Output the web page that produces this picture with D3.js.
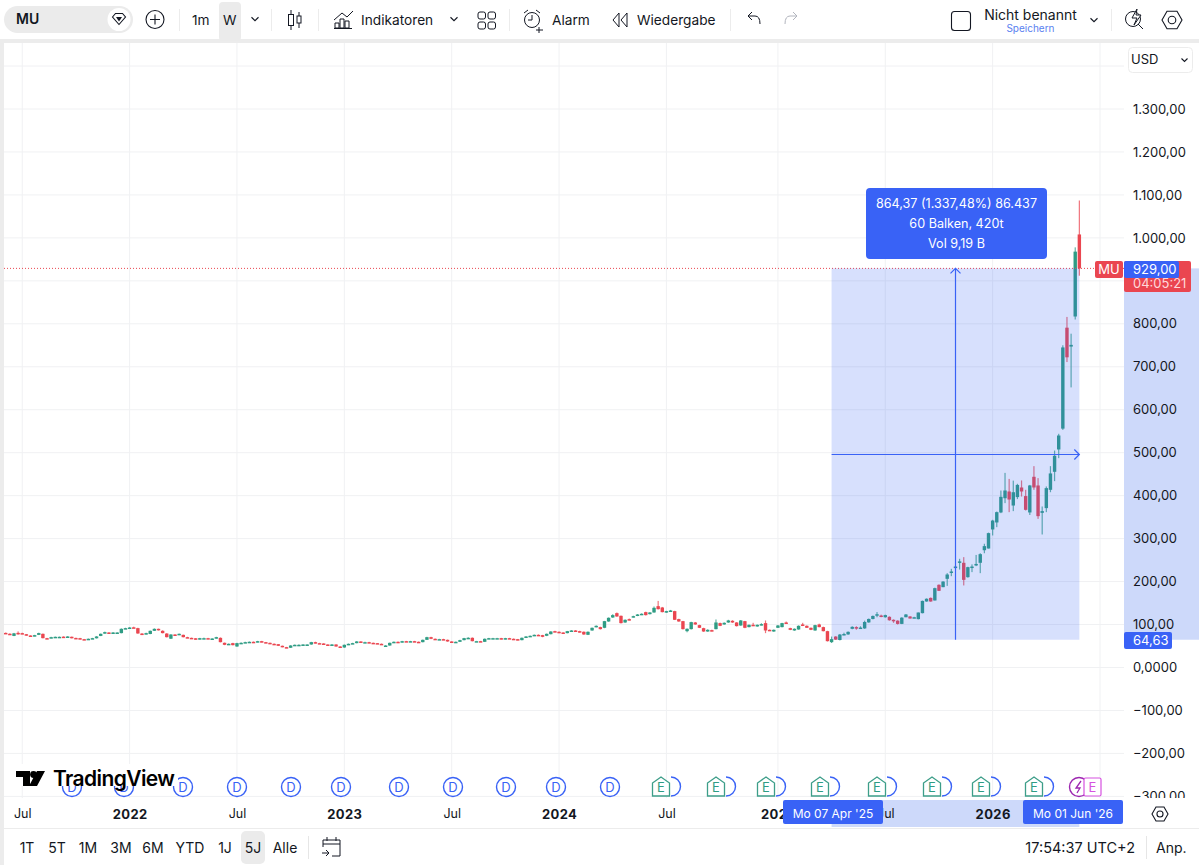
<!DOCTYPE html>
<html lang="de">
<head>
<meta charset="utf-8">
<title>MU</title>
<script src="https://cdn.jsdelivr.net/npm/d3@7/dist/d3.min.js"></script>
<style>
html,body{margin:0;padding:0;background:#fff;overflow:hidden}
svg{display:block;font-family:Inter,"Noto Sans",sans-serif}
text{fill:#131722}
</style>
</head>
<body>
<svg id="chart" width="1199" height="865"></svg>
<script>
// Weekly candles, oldest first: the first bar is the week of 7 June 2021.
const opens = [80.5,78.5,73.5,80.6,80,77.5,74.5,73.5,76,78.4,68.3,68.5,71,71,71.8,71.4,71.5,68.8,68.3,66,65.2,67,68,73.5,79,81.5,80.7,81.5,80,90,91.5,93.5,91.6,79,77.5,78,85.4,90,85.4,79,67,76.8,76,76,70.6,69,68,65.2,68,68.3,67.5,67.5,69,57.5,53,56.7,48.9,56.7,57.4,59,59.8,59,61.3,59,57.4,55.1,54.3,50.5,47.4,46,51.2,52.8,52.8,53.6,53.6,59,56.7,55.9,53.6,52.8,53.6,48.9,46.6,52.8,55.1,56.7,60.6,59,59,57.4,56.7,55.1,50,51.2,57.4,59.8,58.2,61.3,59.8,61.3,59.8,59,64.4,70.6,66.8,65.2,66,64.4,60.6,58.2,59.8,63.7,68.3,69.1,61.3,61.3,59.8,66.8,68.3,68.3,68.3,66,68.3,66.8,66,63.7,69.1,72.2,73.7,76,
75.3,73.8,77.6,84.6,83.1,81.5,80,84.6,86.2,84.6,83.1,76.1,86.2,94,94,92.4,107.1,116.4,126.5,120.3,104.8,112.6,117.2,120.3,122.6,128.9,124.2,128.1,142.8,139.7,128.1,130.4,131.2,112.6,107.9,84.6,89.3,104.8,98.6,91.6,83.8,87,89.3,103.3,100.2,104.8,108.7,104.8,97.8,107.9,94,99.4,95.5,98.6,103.3,87.7,83.8,92.4,94,104.8,91.6,86.2,88.5,100.2,97,92.4,86.2,100.2,94,84.6,
59,72,64,77,77,90,94,92,91,105,113,122,121,117,118,111,109,101.5,117,118.8,116.5,112.6,126.5,153.7,162,156,192.5,187,206.4,220.4,232,244,243.7,210.3,232,238,243.7,273,277,321.3,337.6,360.9,394,409.7,377,396.6,419,399,360.9,443.9,423.7,360,371,413.6,455.5,507.5,556,791,747,817,1008];

const highs = [81.5,79.5,80.5,84,81,78,75,76,81,79,69,71.5,72,72,72.5,73,72,69.5,69,66.5,67.5,69,73,79,83.5,82,82.5,82.5,91,92.5,94,95,92.5,80,81,86,91,90.5,86.5,80,77.5,77.5,79,76.5,71.5,69.5,68.5,69,69.5,69,68.5,71.5,70,58,56,57.5,57.5,58.5,60,60.5,60.5,62,62,59.5,58,56,54.5,51,48,52,53.5,53.8,54,54.5,59.8,60,57.5,56.5,54,54.5,54,49.5,53.5,55.8,57.5,61.5,61,60,59.8,58,57,55.8,52,58,60.5,60.5,62,62,62,62,60.5,65,71.5,71.5,67.5,66.8,66.8,65,61,60.5,64.5,69,70.5,70,62,62,67.5,69,69,69,69,69,69,67.5,66.5,69.8,73,74.5,76.8,77,
76,79,84.5,85.5,84,82,85.2,87,87,85.5,84,84,93,98,95,108.5,116.5,124,128,121,112,114,120.5,124.5,126,130,129,142,155,141,132,134,132,113.5,108.5,91,106.5,106,99.5,92.5,89,88,111.8,104.5,105,111,110,105.5,110.5,108.5,100,104,100,103,109.5,88.5,88.5,99,104,107,92.5,91,98,104,98,93,99.5,102,95,85.5,
72,73,78,81,84,96,96,96,109,114,121,129,123,123,119,112,110,117,124.5,119.5,118,128,155.8,160.8,163,185.8,193.5,201,219.6,229.7,237,253,256.9,234.5,240,262,266,288,314,343.8,363,412,453,439,435,427.6,435.4,413.6,425,468.7,440.8,374.8,421.4,468.7,505,544,750,816,777,978,1087];

const lows = [78.5,76,73,76.5,77.5,74,73,72.5,75.5,67.8,66.5,68,70.5,70.5,70.8,71,67.8,67.8,65.5,64.5,64.8,66.5,67.5,73,78.5,80,80,80.8,79.5,89.5,91,92,78.5,75.5,77,77.5,85,86,79.5,70,66.5,75,75.5,70,68.5,67.8,64.5,65,67.5,67,66.8,67,58.5,52,52.5,51.5,48.2,56,57,58.5,58.5,58.5,58.5,56.8,54.5,53.8,50,47,45.2,45.6,50.5,52,52.2,53,53,56,55.5,53,52.3,52.3,48.5,45.3,46,52.2,54.8,56.2,58.5,58.5,57,56.2,54.8,53,49.5,50.8,57,57.8,57.8,59.4,59.4,59.4,58.5,58.5,64,66,64.7,64.8,64,60,57.8,57.8,59.4,63.2,67.8,60.8,60.8,59.3,59.3,66.3,67.8,67.8,65.5,65.5,66.3,65.5,63.2,63.2,68.6,71.7,73.2,74.6,
70.5,73,77,82.5,80,79.5,79.5,84,83,81.5,76,75.5,85.5,93.5,88.5,91.5,106.5,115.5,118,102.5,104,109.5,116.5,119.5,122,121,123.5,127.5,135,128.3,127.5,129.8,110.5,106.5,88.5,82,88.5,99.5,91.8,83,83,84,88.8,96.3,99.5,104,104,95.5,97,91.5,93.5,96.5,95,98,80,86.5,83,92,93.5,102.5,87,85.5,88,96.5,92,87,85.5,93.5,84,60.5,
57,64,63,75,76,89,88,91,90,104,112,117,117,116,109,104,100,101,117,114,116,112,126,153,153,156,178,187,190,212.6,229.7,228,191,209,222,236,219.6,266,277,307.3,326.7,359.3,382.6,361.6,364,392,398,365.5,355,413.6,346,309.6,361.6,408,433.8,487.3,553,711,652,810,912];

const closes = [79.2,76.8,79.5,80,78.4,74.5,73.7,75.3,80,68.3,67.5,70.6,71.4,71.4,71.4,72.2,68.3,68.3,66,65.2,66.8,68.3,72.2,78.4,82.3,80.7,81.5,81.5,90,91.6,93.1,93.1,79.2,77.6,80,85.4,90,87.7,80,70.6,76.8,76,78.4,70.6,69.1,68.3,65.2,68.3,68.3,67.5,67.5,70.6,59,52.8,55.1,52,56.7,57.4,59,59.8,59,61.3,59,57.4,55.1,54.3,50.5,47.4,45.8,51.2,52.8,52.8,53.6,53.6,59,56.7,55.9,53.6,52.8,53.6,48.9,45.8,52.8,55.1,56.7,60.6,59,59,57.4,56.7,55.1,53.6,51.2,57.4,59.8,58.2,61.3,59.8,61.3,59.8,59,64.4,70.6,66.8,65.2,66,64.4,60.6,58.2,59.8,63.7,68.3,69.1,61.3,61.3,59.8,66.8,68.3,68.3,68.3,66,68.3,66.8,66,63.7,69.1,72.2,73.7,76,75.3,
71.4,78.4,83.8,83.1,80.7,80,84.6,86.2,83.8,82.3,76.9,83.1,92.4,97,89.3,107.9,115.7,121.9,118.8,103.3,111,110.2,119.5,123.4,125,121.9,128.1,138.9,135.8,128.9,131.2,132.7,111,107.1,89.3,90.1,105.6,100.2,92.4,83.8,87.7,84.6,104.8,97,104,109.5,104.8,96.3,109.5,92.4,99.4,97,99.4,101,86.2,87,87.7,97.8,103.3,103.3,87.7,90.1,97,97,92.4,87.7,98.6,94,84.6,61.3,
66,65,76.7,78,83,94.6,91,93,106,113,120,124,118,122,110,109,101.5,116,123.4,114,117,128,155,160,153.7,184.7,178.5,200,216.5,223.5,235,247,204,233.6,235,241,263.8,282.5,312.8,342,361.6,397.3,412,391,408,425,409.7,367,423.7,419,352.3,364,417.5,451.7,492.8,540,745,722,751,968,929];

const firstWeek = new Date(Date.UTC(2021, 5, 7));
const bars = closes.map((c, i) => ({
  date: d3.utcMonday.offset(firstWeek, i), o: opens[i], h: highs[i], l: lows[i], c
}));

// Price scale tick values and their printed labels.
const priceTicks = [1400,1300,1200,1100,1000,900,800,700,600,500,400,300,200,100,0,-100,-200,-300];
const priceLabels = ["","1.300,00","1.200,00","1.100,00","1.000,00","","800,00","700,00","600,00","500,00","400,00","300,00","200,00","100,00","0,0000","−100,00","−200,00","−300,00"];

// Time axis tick labels.
const timeTickDates = [[2021,6,5],[2022,0,3],[2022,6,4],[2023,0,2],[2023,6,3],[2024,0,1],[2024,6,1],[2025,0,6],[2025,6,7],[2026,0,5],[2026,6,6]];
const timeTickLabels = ["Jul","2022","Jul","2023","Jul","2024","Jul","2025","Jul","2026",""];

// Event markers along the bottom of the pane.
const dividendX = [72,124,183,237,291,341,399,453,506,556,610];
const earningsX = [661,716,766,820,877,932,981,1034];
const rangeButtons = ["1T","5T","1M","3M","6M","YTD","1J","5J","Alle"];
const rangeButtonX = [27,57,88,121,153,190,225,253,285];

// Price measure between the two selected weeks.
const measureStart = {date: new Date(Date.UTC(2025, 3, 7)), price: 64.63};
const measureEnd = {date: new Date(Date.UTC(2026, 5, 1)), price: 929};
const measureLines = ["864,37 (1.337,48%) 86.437", "60 Balken, 420t", "Vol 9,19 B"];

const GREEN = "#2f9c84", RED = "#ea4650", BLUE = "#3962f6", BAND = "#cdd9fa";
const paneLeft = 4, paneRight = 1124, paneTop = 43, paneBottom = 798, axisBottom = 828;

const svg = d3.select("#chart");
svg.append("rect").attr("width",1199).attr("height",865).attr("fill","#fff");
svg.append("rect").attr("y",39).attr("width",1199).attr("height",4).attr("fill","#ececec");
svg.append("rect").attr("y",39).attr("width",4).attr("height",826).attr("fill","#ececec");
svg.append("clipPath").attr("id","pane").append("rect")
  .attr("x",paneLeft).attr("y",paneTop).attr("width",paneRight-paneLeft).attr("height",paneBottom-paneTop);

const x = d3.scaleUtc()
  .domain([new Date(Date.UTC(2022,0,3)), new Date(Date.UTC(2026,6,6))])
  .range([129.6, 1100]);
const y = d3.scaleLinear().domain([0, 1300]).range([667.5, 109]);

const timeTicks = timeTickDates.map(d => new Date(Date.UTC(d[0], d[1], d[2])));

// Grid
const grid = svg.append("g").attr("clip-path","url(#pane)").attr("stroke","#f0f1f3").attr("stroke-width",1);
grid.selectAll("line.h").data(priceTicks).join("line").attr("class","h")
  .attr("x1",paneLeft).attr("x2",paneRight).attr("y1",d=>y(d)).attr("y2",d=>y(d));
grid.selectAll("line.v").data(timeTicks).join("line").attr("class","v")
  .attr("x1",d=>x(d)).attr("x2",d=>x(d)).attr("y1",paneTop).attr("y2",paneBottom);

// Candles
const candleWidth = 3.4;
const candles = svg.append("g").attr("clip-path","url(#pane)").selectAll("g").data(bars).join("g")
  .attr("fill", d => d.c >= d.o ? GREEN : RED);
candles.append("rect").attr("class","wick")
  .attr("x",d=>x(d.date)-0.6).attr("width",1.2)
  .attr("y",d=>y(d.h)).attr("height",d=>y(d.l)-y(d.h)).attr("opacity",0.75);
candles.append("rect").attr("class","body")
  .attr("x",d=>x(d.date)-candleWidth/2).attr("width",candleWidth)
  .attr("y",d=>y(Math.max(d.o,d.c)))
  .attr("height",d=>Math.max(1.5,Math.abs(y(d.o)-y(d.c))));

// Last price line
const lastPrice = closes[closes.length-1];
svg.append("line").attr("x1",paneLeft).attr("x2",paneRight)
  .attr("y1",y(lastPrice)).attr("y2",y(lastPrice))
  .attr("stroke",RED).attr("stroke-width",1).attr("stroke-dasharray","1 2");

// Measure overlay
const mx0 = x(measureStart.date), mx1 = x(measureEnd.date);
const my0 = y(measureStart.price), my1 = y(measureEnd.price);
svg.append("rect").attr("x",mx0).attr("y",my1).attr("width",mx1-mx0).attr("height",my0-my1)
  .attr("fill",BLUE).attr("fill-opacity",0.2);
const mxMid = Math.round((mx0+mx1)/2)+0.5, myMid = Math.round((my0+my1)/2)+0.5;
const arrows = svg.append("g").attr("stroke",BLUE).attr("stroke-width",1.2).attr("fill","none");
arrows.append("line").attr("x1",mxMid).attr("x2",mxMid).attr("y1",my0).attr("y2",my1);
arrows.append("line").attr("x1",mx0).attr("x2",mx1).attr("y1",myMid).attr("y2",myMid);
arrows.append("path").attr("d",`M${mxMid-5},${my1+5}L${mxMid},${my1}L${mxMid+5},${my1+5}`);
arrows.append("path").attr("d",`M${mx1-5},${myMid-5}L${mx1},${myMid}L${mx1-5},${myMid+5}`);

const box = svg.append("g");
box.append("rect").attr("x",866).attr("y",188).attr("width",181).attr("height",71).attr("rx",4).attr("fill",BLUE);
box.selectAll("text").data(measureLines).join("text")
  .attr("x",956.5).attr("y",(d,i)=>207.5+i*20).attr("text-anchor","middle")
  .attr("font-size",12.6).style("fill","#fff").text(d=>d);

// Event markers
const events = svg.append("g").attr("clip-path","url(#pane)");
function dividend(g, cx){
  g.append("circle").attr("cx",cx).attr("cy",787).attr("r",9.5).attr("fill","#fff").attr("stroke",BLUE).attr("stroke-width",1.4);
  g.append("text").attr("x",cx).attr("y",792).attr("text-anchor","middle").attr("font-size",13).style("fill",BLUE).text("D");
}
dividendX.forEach(cx => dividend(events, cx));
earningsX.forEach(cx => {
  events.append("path").attr("d",`M${cx+10},777a9.5,9.5 0 0 1 0,19`).attr("fill","none").attr("stroke",BLUE).attr("stroke-width",1.4);
  events.append("path").attr("d",`M${cx-8.5},783L${cx},777L${cx+8.5},783V796H${cx-8.5}Z`)
    .attr("fill","#fff").attr("stroke","#3d9e89").attr("stroke-width",1.3);
  events.append("text").attr("x",cx).attr("y",792).attr("text-anchor","middle").attr("font-size",13).style("fill","#2f9c84").text("E");
});
events.append("circle").attr("cx",1079).attr("cy",787).attr("r",9.5).attr("fill","#fff").attr("stroke","#9c27b0").attr("stroke-width",1.4);
events.append("path").attr("d","M1081,781L1076,788H1080L1077,793").attr("fill","none").attr("stroke","#9c27b0").attr("stroke-width",1.3);
events.append("rect").attr("x",1084).attr("y",778).attr("width",17).attr("height",18).attr("rx",1.5).attr("fill","#fff").attr("stroke","#d652e0").attr("stroke-width",1.2);
events.append("text").attr("x",1092.5).attr("y",792).attr("text-anchor","middle").attr("font-size",13).style("fill","#d652e0").text("E");

// Brand mark
svg.append("rect").attr("x",13).attr("y",764).attr("width",165).attr("height",22).attr("fill","#fff");
svg.append("path").attr("fill","#000")
  .attr("d","M16,771H30V786H23V777H16Z M45,771L37,786H29L37,771Z");
svg.append("circle").attr("cx",33.5).attr("cy",774.5).attr("r",3.4).attr("fill","#000");
svg.append("text").attr("x",53).attr("y",786).attr("font-size",21).attr("font-weight",600).attr("letter-spacing",-0.6).style("fill","#000").text("TradingView");

// Right price axis
svg.append("rect").attr("x",paneRight).attr("y",my1).attr("width",1199-paneRight).attr("height",my0-my1).attr("fill",BAND);
const priceAxis = d3.axisRight(y).tickValues(priceTicks)
  .tickSize(0).tickPadding(9).tickFormat((d,i)=>priceLabels[i]);
const pa = svg.append("g").attr("transform",`translate(${paneRight},0)`).call(priceAxis);
pa.select(".domain").remove();
pa.selectAll("text").attr("font-size",13).attr("font-family","Inter").style("fill","#131722");
svg.append("rect").attr("x",paneRight).attr("y",798).attr("width",75).attr("height",30).attr("fill","#fff");

// Last price tags
svg.append("rect").attr("x",1095).attr("y",261).attr("width",28).attr("height",17).attr("rx",2).attr("fill",RED);
svg.append("text").attr("x",1109).attr("y",274).attr("text-anchor","middle").attr("font-size",13).style("fill","#fff").text("MU");
svg.append("rect").attr("x",1124).attr("y",261).attr("width",67).attr("height",31).attr("rx",2).attr("fill",RED);
svg.append("rect").attr("x",1124).attr("y",261).attr("width",55).attr("height",17).attr("rx",2).attr("fill",BLUE);
svg.append("text").attr("x",1133).attr("y",274).attr("font-size",13).style("fill","#fff").text("929,00");
svg.append("text").attr("x",1133).attr("y",288).attr("font-size",13).style("fill","#ffd9db").text("04:05:21");
svg.append("rect").attr("x",1124).attr("y",632).attr("width",48).attr("height",17).attr("rx",2).attr("fill",BLUE);
svg.append("text").attr("x",1133).attr("y",645).attr("font-size",13).style("fill","#fff").text("64,63");

// Time axis
svg.append("rect").attr("x",paneLeft).attr("y",paneBottom).attr("width",1195).attr("height",axisBottom-paneBottom).attr("fill","#fff");
svg.append("rect").attr("x",mx0).attr("y",paneBottom+2).attr("width",mx1-mx0).attr("height",axisBottom-paneBottom-3).attr("fill",BAND);
const timeAxis = d3.axisBottom(x).tickValues(timeTicks).tickSize(0).tickPadding(0).tickFormat((d,i)=>timeTickLabels[i]);
const ta = svg.append("g").attr("transform","translate(0,809.5)").call(timeAxis);
ta.select(".domain").remove();
ta.selectAll("text").attr("font-family","Inter").attr("font-size",d=>d.getUTCMonth()===0?13:12.5)
  .attr("font-weight",d=>d.getUTCMonth()===0?700:400).attr("letter-spacing",d=>d.getUTCMonth()===0?0.4:0).style("fill","#131722");
[[783,"Mo 07 Apr '25"],[1023,"Mo 01 Jun '26"]].forEach(([lx,t])=>{
  svg.append("rect").attr("x",lx).attr("y",800).attr("width",100).attr("height",24).attr("rx",2).attr("fill",BLUE);
  svg.append("text").attr("x",lx+50).attr("y",818).attr("text-anchor","middle").attr("font-size",12).style("fill","#fff").text(t);
});
svg.append("line").attr("x1",paneLeft).attr("x2",1199).attr("y1",828.5).attr("y2",828.5).attr("stroke","#ececec");

// Hexagon settings glyph, used twice
function hexIcon(cx,cy,r){
  const g = svg.append("g").attr("fill","none").attr("stroke","#131722").attr("stroke-width",1.1);
  g.append("path").attr("d",`M${cx-r},${cy}L${cx-r/2},${cy-r*0.87}H${cx+r/2}L${cx+r},${cy}L${cx+r/2},${cy+r*0.87}H${cx-r/2}Z`);
  g.append("circle").attr("cx",cx).attr("cy",cy).attr("r",r*0.38);
}
hexIcon(1160,814,8);

// Currency selector
svg.append("rect").attr("x",1128.5).attr("y",47.5).attr("width",64).attr("height",25).attr("rx",4).attr("fill","#fff").attr("stroke","#ececec");
svg.append("text").attr("x",1131).attr("y",64).attr("font-size",13).text("USD");
function caret(cx,cy,w){
  svg.append("path").attr("d",`M${cx-w},${cy-w/2}L${cx},${cy+w/2}L${cx+w},${cy-w/2}`).attr("fill","none").attr("stroke","#131722").attr("stroke-width",1.1);
}
caret(1184.5,60,3);

// Top toolbar
const bar = svg.append("g");
bar.append("rect").attr("x",4).attr("y",6).attr("width",129).attr("height",27).attr("rx",13.5).attr("fill","#ebebeb");
bar.append("circle").attr("cx",119).attr("cy",19.5).attr("r",11.5).attr("fill","#fff");
bar.append("path").attr("d","M112.5,17L115.5,13.5H122.5L125.5,17L119,24.5Z").attr("fill","none").attr("stroke","#131722").attr("stroke-width",1.1);
bar.append("path").attr("d","M116,17H122L119,21.5Z").attr("fill","#131722");
bar.append("text").attr("x",16).attr("y",24).attr("font-size",14).attr("font-weight",600).text("MU");
bar.append("circle").attr("cx",155).attr("cy",19.5).attr("r",9).attr("fill","none").attr("stroke","#131722").attr("stroke-width",1.1);
bar.append("path").attr("d","M155,14.5V24.5M150,19.5H160").attr("stroke","#131722").attr("stroke-width",1.1);
[179,271,318,509,730,1111].forEach(sx=>bar.append("line").attr("x1",sx+.5).attr("x2",sx+.5).attr("y1",9).attr("y2",31).attr("stroke","#ececec"));
bar.append("rect").attr("x",219).attr("y",2).attr("width",22).attr("height",39).attr("rx",4).attr("fill","#ebebeb");
const labels = [[192,"1m"],[223,"W"],[361,"Indikatoren"],[552,"Alarm"],[637,"Wiedergabe"]];
labels.forEach(([lx,t])=>bar.append("text").attr("x",lx).attr("y",25).attr("font-size",13.7).text(t));
caret(255,19,3.5);caret(454,19,3.5);caret(1094,20,3.5);
// candle style glyph
bar.append("path").attr("d","M291,10V30M299,12V28").attr("stroke","#131722").attr("fill","none");
bar.append("rect").attr("x",288.5).attr("y",14.5).attr("width",5).attr("height",11).attr("fill","#fff").attr("stroke","#131722");
bar.append("rect").attr("x",297).attr("y",16).attr("width",4).attr("height",7).attr("fill","#fff").attr("stroke","#131722");
// indicators glyph
bar.append("path").attr("d","M334,20L342,13L347,17L353,11M335,28V23H339V28ZM340,28V19H344V28ZM345,28V21H349V28Z M334,28.5H352")
  .attr("fill","none").attr("stroke","#131722").attr("stroke-width",1);
// layout glyph
[[478,12],[488,12],[478,22],[488,22]].forEach(([rx,ry])=>bar.append("rect").attr("x",rx).attr("y",ry).attr("width",7.5).attr("height",7).attr("rx",2).attr("fill","none").attr("stroke","#131722"));
// alarm glyph
bar.append("circle").attr("cx",532).attr("cy",20).attr("r",7.5).attr("fill","none").attr("stroke","#131722");
bar.append("path").attr("d","M532,15V20H528M524,13L528,10M540,13L536,10M539,27V33M536,30H543").attr("fill","none").attr("stroke","#131722");
// replay glyph
bar.append("path").attr("d","M619,13L613,20L619,27ZM627,13L621,20L627,27Z").attr("fill","none").attr("stroke","#131722");
// undo and redo
bar.append("path").attr("d","M748,16L752,12M748,16L752,20M748,16H755Q760,16 760,24").attr("fill","none").attr("stroke","#131722");
bar.append("path").attr("d","M797,16L793,12M797,16L793,20M797,16H790Q785,16 785,24").attr("fill","none").attr("stroke","#b2b5be");
// layout name
bar.append("rect").attr("x",951.5).attr("y",11.5).attr("width",19).attr("height",19).attr("rx",3).attr("fill","none").attr("stroke","#131722").attr("stroke-width",1.1);
bar.append("text").attr("x",1030.5).attr("y",20).attr("text-anchor","middle").attr("font-size",14).text("Nicht benannt");
bar.append("text").attr("x",1030.5).attr("y",32).attr("text-anchor","middle").attr("font-size",10).style("fill","#5a7ff0").text("Speichern");
// quick search glyph
bar.append("circle").attr("cx",1133).attr("cy",19).attr("r",7.5).attr("fill","none").attr("stroke","#131722");
bar.append("path").attr("d","M1138,24L1143,29").attr("stroke","#131722");
bar.append("path").attr("d","M1137,9L1132,18H1137L1134,25L1141,15H1136Z").attr("fill","#fff").attr("stroke","#131722");
hexIcon(1172,20,10);

// Bottom toolbar
const foot = svg.append("g");
foot.append("rect").attr("x",241).attr("y",831).attr("width",24).attr("height",33).attr("rx",5).attr("fill","#ebebeb");
foot.selectAll("text.r").data(rangeButtons).join("text").attr("class","r")
  .attr("x",(d,i)=>rangeButtonX[i]).attr("y",853).attr("text-anchor","middle").attr("font-size",14).text(d=>d);
foot.append("line").attr("x1",308.5).attr("x2",308.5).attr("y1",836).attr("y2",859).attr("stroke","#e6e6e6");
foot.append("line").attr("x1",1146.5).attr("x2",1146.5).attr("y1",836).attr("y2",859).attr("stroke","#e6e6e6");
foot.append("path").attr("d","M323,847V840H340V856H332M323,844H340M327,837V841M336,837V841M322,853H329M326,850L329,853L326,856")
  .attr("fill","none").attr("stroke","#131722");
foot.append("text").attr("x",1135).attr("y",853).attr("text-anchor","end").attr("font-size",14.5).text("17:54:37 UTC+2");
foot.append("text").attr("x",1156).attr("y",853).attr("font-size",14).text("Anp.");
</script>
</body>
</html>
